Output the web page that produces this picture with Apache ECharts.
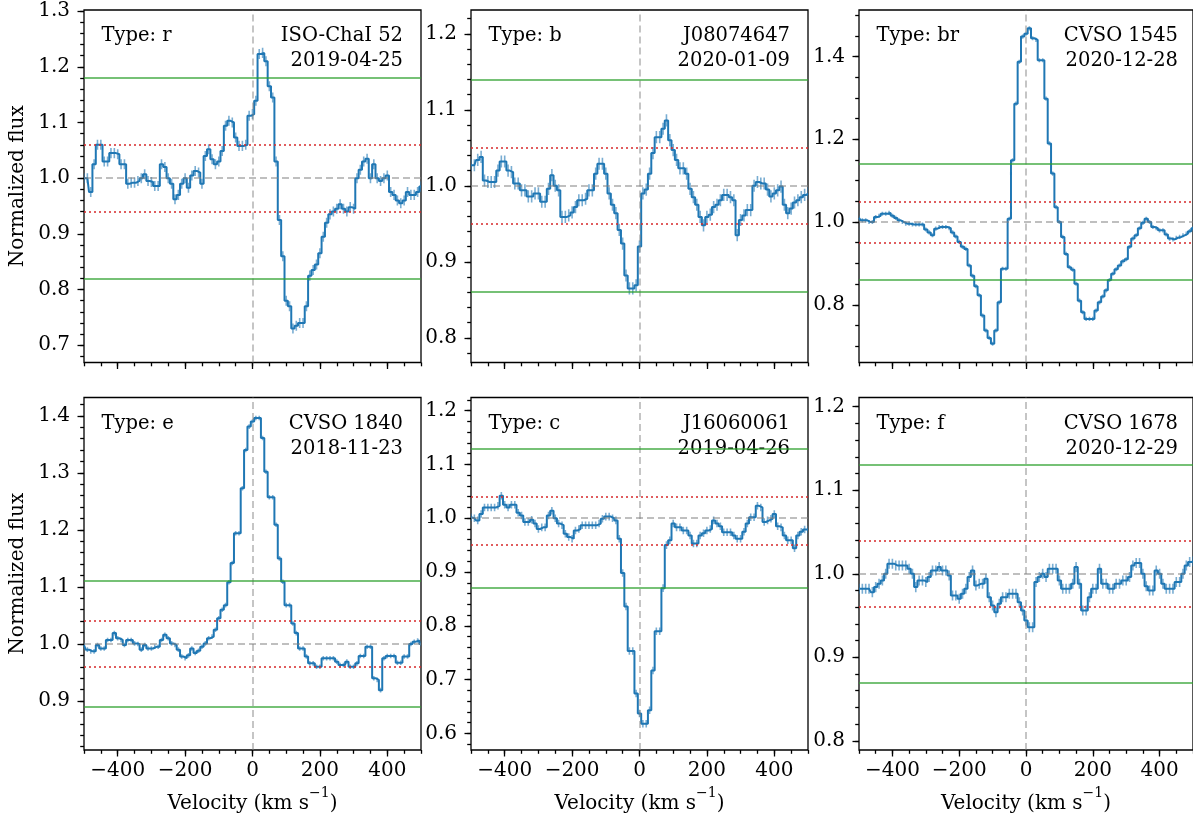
<!DOCTYPE html>
<html>
<head>
<meta charset="utf-8">
<script src="https://cdn.jsdelivr.net/npm/echarts@6/dist/echarts.min.js"></script>
<style>
  html, body { margin: 0; padding: 0; background: #fff; }
  #chart { width: 1193px; height: 816px; }
</style>
</head>
<body>
<div id="chart"></div>
<script>
// velocity grid (km/s), shared by all six spectra
const velocity = [
  -500, -490, -480, -470, -460, -450, -440, -430, -420, -410,
  -400, -390, -380, -370, -360, -350, -340, -330, -320, -310,
  -300, -290, -280, -270, -260, -250, -240, -230, -220, -210,
  -200, -190, -180, -170, -160, -150, -140, -130, -120, -110,
  -100, -90, -80, -70, -60, -50, -40, -30, -20, -10,
  0, 10, 20, 30, 40, 50, 60, 70, 80, 90,
  100, 110, 120, 130, 140, 150, 160, 170, 180, 190,
  200, 210, 220, 230, 240, 250, 260, 270, 280, 290,
  300, 310, 320, 330, 340, 350, 360, 370, 380, 390,
  400, 410, 420, 430, 440, 450, 460, 470, 480, 490,
  500
];

// normalized flux, one array per panel
const fluxR = [
  1.0, 1.0, 0.975, 1.025, 1.06, 1.06, 1.03, 1.03, 1.045, 1.045,
  1.043, 1.025, 1.025, 0.99, 0.992, 0.992, 0.995, 1.0, 1.007, 0.995,
  0.993, 0.986, 0.986, 1.025, 1.02, 1.0, 0.99, 0.962, 0.97, 0.99,
  1.0, 0.983, 1.005, 1.013, 1.01, 0.99, 1.04, 1.052, 1.034, 1.025,
  1.03, 1.049, 1.094, 1.103, 1.1, 1.073, 1.058, 1.058, 1.06, 1.112,
  1.115, 1.139, 1.223, 1.225, 1.21, 1.165, 1.145, 1.03, 0.925, 0.86,
  0.78, 0.77, 0.73, 0.735, 0.74, 0.74, 0.77, 0.825, 0.835, 0.845,
  0.865, 0.895, 0.92, 0.935, 0.94, 0.945, 0.953, 0.945, 0.94, 0.948,
  0.945, 1.0, 1.015, 1.03, 1.035, 1.0, 1.025, 1.0, 0.995, 1.0,
  1.005, 0.975, 0.97, 0.96, 0.955, 0.96, 0.975, 0.97, 0.97, 0.975,
  0.985
];
const fluxB = [
  1.027, 1.027, 1.034, 1.038, 1.007, 1.005, 1.005, 1.005, 1.02, 1.032,
  1.032, 1.02, 1.018, 1.003, 1.003, 0.994, 0.994, 0.986, 0.986, 0.99,
  0.99, 0.979, 0.979, 0.996, 1.014, 1.0, 0.994, 0.959, 0.959, 0.961,
  0.965, 0.972, 0.981, 0.981, 0.983, 0.994, 0.994, 1.016, 1.029, 1.029,
  1.016, 0.99, 0.975, 0.964, 0.942, 0.924, 0.882, 0.865, 0.865, 0.869,
  0.92, 0.99, 0.995, 1.016, 1.043, 1.064, 1.064, 1.075, 1.086, 1.06,
  1.047, 1.034, 1.023, 1.023, 1.016, 0.996, 0.985, 0.975, 0.959, 0.948,
  0.959, 0.962, 0.972, 0.975, 0.981, 0.988, 0.988, 0.985, 0.981, 0.935,
  0.955, 0.961, 0.968, 0.968, 1.0, 1.005, 1.003, 1.003, 0.995, 0.986,
  0.99, 0.994, 0.999, 0.975, 0.964, 0.97, 0.978, 0.981, 0.985, 0.988,
  0.99
];
const fluxBR = [
  1.01, 1.004, 1.004, 1.0, 1.0, 1.012, 1.015, 1.02, 1.02, 1.022,
  1.015, 1.01, 1.004, 1.0, 0.996, 0.996, 0.994, 0.994, 0.994, 0.994,
  0.982, 0.975, 0.968, 0.984, 0.988, 0.988, 0.988, 0.985, 0.975, 0.965,
  0.952, 0.94, 0.935, 0.895, 0.87, 0.845, 0.823, 0.774, 0.738, 0.72,
  0.706, 0.738, 0.806, 0.887, 0.887, 1.008, 1.149, 1.286, 1.387, 1.448,
  1.455, 1.468, 1.444, 1.44, 1.391, 1.391, 1.298, 1.19, 1.117, 1.036,
  1.0, 0.964, 0.923, 0.891, 0.885, 0.851, 0.81, 0.782, 0.766, 0.766,
  0.766, 0.786, 0.806, 0.82, 0.835, 0.86, 0.875, 0.886, 0.895, 0.905,
  0.91, 0.94, 0.96, 0.968, 0.985, 0.998, 1.008, 1.0, 0.988, 0.985,
  0.98, 0.98, 0.97, 0.96, 0.958, 0.962, 0.964, 0.968, 0.972, 0.978,
  0.985
];
const fluxE = [
  0.998, 0.99, 0.987, 0.987, 0.998, 0.992, 0.992, 1.007, 1.007, 1.019,
  1.01, 1.007, 0.998, 1.007, 1.007, 1.001, 1.0, 0.99, 0.998, 0.992,
  0.992, 0.995, 0.995, 1.007, 1.016, 1.01, 1.001, 0.998, 0.99, 0.978,
  0.975, 0.98, 0.992, 0.984, 0.988, 0.995, 1.001, 1.01, 1.013, 1.025,
  1.045, 1.06, 1.068, 1.108, 1.142, 1.194, 1.194, 1.273, 1.34, 1.381,
  1.39, 1.396, 1.396, 1.361, 1.302, 1.257, 1.257, 1.209, 1.15, 1.109,
  1.068, 1.068, 1.036, 1.019, 0.992, 0.992, 0.978, 0.966, 0.966, 0.96,
  0.96, 0.975, 0.975, 0.975, 0.975, 0.969, 0.963, 0.963, 0.969, 0.96,
  0.96, 0.966, 0.979, 0.979, 0.995, 0.995, 0.94, 0.937, 0.919, 0.975,
  0.979, 0.979, 0.979, 0.967, 0.967, 0.978, 0.978, 1.0, 1.004, 1.006,
  1.0
];
const fluxC = [
  1.002, 1.0, 0.996, 1.008, 1.02, 1.02, 1.02, 1.02, 1.023, 1.042,
  1.025, 1.02, 1.025, 1.025, 1.01, 1.005, 0.993, 0.993, 0.997, 0.99,
  0.98, 0.983, 0.983, 1.005, 1.014, 1.0, 0.99, 0.987, 0.971, 0.965,
  0.962, 0.977, 0.98, 0.987, 0.987, 0.987, 0.987, 0.987, 0.99, 0.999,
  1.003, 1.003, 1.0, 0.996, 0.962, 0.898, 0.836, 0.753, 0.753, 0.674,
  0.637, 0.618, 0.618, 0.643, 0.717, 0.79, 0.79, 0.87, 0.95, 0.959,
  0.99, 0.983, 0.983, 0.977, 0.977, 0.968, 0.953, 0.953, 0.968, 0.972,
  0.977, 0.98, 0.996, 0.99, 0.985, 0.974, 0.974, 0.974, 0.968, 0.962,
  0.962, 0.975, 0.99, 1.002, 1.002, 1.023, 1.02, 0.993, 0.996, 0.999,
  1.008, 0.985, 0.983, 0.968, 0.959, 0.959, 0.944, 0.968, 0.975, 0.979,
  0.979
];
const fluxF = [
  0.982, 0.982, 0.982, 0.982, 0.978, 0.984, 0.988, 0.992, 1.0, 1.012,
  1.012, 1.01, 1.01, 1.01, 1.01, 1.006, 1.0, 0.984, 0.992, 0.992,
  0.99, 0.996, 1.004, 1.004, 1.008, 1.004, 1.004, 0.998, 0.974, 0.974,
  0.97, 0.976, 0.982, 0.996, 1.004, 0.986, 0.988, 0.988, 0.994, 0.972,
  0.962, 0.954, 0.964, 0.972, 0.972, 0.976, 0.976, 0.976, 0.966, 0.956,
  0.944, 0.936, 0.936, 0.99, 0.996, 1.0, 0.996, 1.006, 1.006, 1.006,
  0.992, 0.982, 0.982, 0.982, 0.988, 1.008, 0.988, 0.956, 0.956, 0.972,
  0.982, 0.982, 1.006, 0.988, 0.988, 0.982, 0.982, 0.988, 0.988, 0.992,
  0.992, 0.996, 1.01, 1.013, 1.013, 1.0, 0.985, 0.98, 0.98, 1.004,
  1.0, 0.988, 0.982, 0.982, 0.982, 0.99, 0.99, 1.0, 1.01, 1.014,
  1.015
];

const fluxes = [fluxR, fluxB, fluxBR, fluxE, fluxC, fluxF];
const fluxErr = [0.009, 0.008, 0.005, 0.004, 0.007, 0.006];

const profileTypes = ['r', 'b', 'br', 'e', 'c', 'f'];
const objectNames = ['ISO-ChaI 52', 'J08074647', 'CVSO 1545', 'CVSO 1840', 'J16060061', 'CVSO 1678'];
const obsDates = ['2019-04-25', '2020-01-09', '2020-12-28', '2018-11-23', '2019-04-26', '2020-12-29'];

// threshold levels (green solid / red dotted), upper and lower
const greenLevels = [[1.181, 0.819], [1.139, 0.861], [1.137, 0.862], [1.112, 0.888], [1.134, 0.866], [1.127, 0.873]];
const redLevels = [[1.06, 0.94], [1.047, 0.953], [1.046, 0.954], [1.037, 0.963], [1.044, 0.955], [1.042, 0.957]];

// axes
const yLimits = [[0.669, 1.302], [0.7675, 1.2313], [0.6606, 1.5123], [0.8141, 1.432], [0.569, 1.2245], [0.789, 1.211]];
const yMajorTicks = [
  [0.7, 0.8, 0.9, 1.0, 1.1, 1.2, 1.3],
  [0.8, 0.9, 1.0, 1.1, 1.2],
  [0.8, 1.0, 1.2, 1.4],
  [0.9, 1.0, 1.1, 1.2, 1.3, 1.4],
  [0.6, 0.7, 0.8, 0.9, 1.0, 1.1, 1.2],
  [0.8, 0.9, 1.0, 1.1, 1.2]
];
const yMinorStep = [0.02, 0.02, 0.05, 0.02, 0.02, 0.02];
const xLimits = [-500, 500];
const xMajorTicks = [-400, -200, 0, 200, 400];
const xMinorStep = 50;

const panelLeft = [84, 471, 859];
const panelTop = [10, 397.5];
const panelW = 337;
const panelH = 352.5;

const FONT = 'DejaVu Serif';
const BLUE = '#1f77b4';
const GREEN = 'rgba(44,160,44,0.65)';
const RED = 'rgba(214,39,40,0.75)';
const GRAY = 'rgba(128,128,128,0.5)';

function minorTicks(lo, hi, step) {
  const out = [];
  for (let k = Math.ceil(lo / step - 1e-9); k * step <= hi + 1e-9; k++) {
    out.push(+(k * step).toFixed(4));
  }
  return out;
}

function fmtX(v) {
  return v < 0 ? '\u2212' + (-v) : String(v);
}

let chart = echarts.init(document.getElementById('chart'), null, { renderer: 'canvas' });

const grids = [], xAxes = [], yAxes = [], series = [], graphics = [];
const tickStyle = { color: '#000', width: 1.3 };

for (let i = 0; i < 6; i++) {
  const row = Math.floor(i / 3), col = i % 3;
  const gx = panelLeft[col], gy = panelTop[row];
  grids.push({
    left: gx, top: gy, width: panelW, height: panelH,
    show: true, borderColor: '#000', borderWidth: 1.3, backgroundColor: 'transparent'
  });

  // major x axis
  xAxes.push({
    gridIndex: i, type: 'value', min: xLimits[0], max: xLimits[1], position: 'bottom',
    axisLine: { show: false, onZero: false }, splitLine: { show: false },
    axisTick: { show: true, customValues: xMajorTicks, length: 6.5, lineStyle: tickStyle },
    axisLabel: {
      show: row === 1, customValues: xMajorTicks, formatter: fmtX,
      fontFamily: FONT, fontSize: 20, color: '#000', margin: 11
    },
    name: row === 1 ? '{t|Velocity (km s}{s|\u22121}{t|)}' : '',
    nameLocation: 'middle', nameGap: 36,
    nameTextStyle: {
      rich: {
        t: { fontFamily: FONT, fontSize: 20, color: '#000', lineHeight: 28, verticalAlign: 'bottom' },
        s: { fontFamily: FONT, fontSize: 14, color: '#000', lineHeight: 14, verticalAlign: 'top' }
      }
    }
  });
  // minor x ticks
  xAxes.push({
    gridIndex: i, type: 'value', min: xLimits[0], max: xLimits[1], position: 'bottom',
    axisLine: { show: false, onZero: false }, splitLine: { show: false }, axisLabel: { show: false },
    axisTick: { show: true, customValues: minorTicks(xLimits[0], xLimits[1], xMinorStep), length: 3.8, lineStyle: tickStyle }
  });

  const [ymin, ymax] = yLimits[i];
  yAxes.push({
    gridIndex: i, type: 'value', min: ymin, max: ymax, position: 'left',
    axisLine: { show: false, onZero: false }, splitLine: { show: false },
    axisTick: { show: true, customValues: yMajorTicks[i], length: 6.5, lineStyle: tickStyle },
    axisLabel: {
      customValues: yMajorTicks[i], formatter: v => v.toFixed(1),
      fontFamily: FONT, fontSize: 20, color: '#000', margin: 14
    },
    name: col === 0 ? 'Normalized flux' : '',
    nameLocation: 'middle', nameRotate: 90, nameGap: 56,
    nameTextStyle: { fontFamily: FONT, fontSize: 20, color: '#000' }
  });
  yAxes.push({
    gridIndex: i, type: 'value', min: ymin, max: ymax, position: 'left',
    axisLine: { show: false, onZero: false }, splitLine: { show: false }, axisLabel: { show: false },
    axisTick: { show: true, customValues: minorTicks(ymin, ymax, yMinorStep[i]), length: 3.8, lineStyle: tickStyle }
  });

  const xi = 2 * i, yi = 2 * i;

  // reference lines
  series.push({
    type: 'line', xAxisIndex: xi, yAxisIndex: yi, data: [], silent: true, z: 1,
    markLine: {
      symbol: ['none', 'none'], silent: true, animation: false, label: { show: false },
      data: [
        { xAxis: 0, lineStyle: { color: GRAY, type: [7, 4], width: 1.8 } },
        { yAxis: 1.0, lineStyle: { color: GRAY, type: [7, 4], width: 1.8 } },
        { yAxis: redLevels[i][0], lineStyle: { color: RED, type: [2, 3], width: 2 } },
        { yAxis: redLevels[i][1], lineStyle: { color: RED, type: [2, 3], width: 2 } },
        { yAxis: greenLevels[i][0], lineStyle: { color: GREEN, type: 'solid', width: 2 } },
        { yAxis: greenLevels[i][1], lineStyle: { color: GREEN, type: 'solid', width: 2 } }
      ]
    }
  });

  // error bars
  series.push({
    type: 'custom', xAxisIndex: xi, yAxisIndex: yi, z: 2, clip: true, silent: true,
    data: velocity.map((v, k) => [v, fluxes[i][k], fluxErr[i]]),
    renderItem: (params, api) => {
      const x = api.value(0), y = api.value(1), e = api.value(2);
      const p1 = api.coord([x, y - e]);
      const p2 = api.coord([x, y + e]);
      return {
        type: 'line',
        shape: { x1: p1[0], y1: p1[1], x2: p2[0], y2: p2[1] },
        style: { stroke: 'rgba(31,119,180,0.6)', lineWidth: 1.6 }
      };
    }
  });

  // spectrum as mid steps
  series.push({
    type: 'line', xAxisIndex: xi, yAxisIndex: yi, z: 3, step: 'middle',
    showSymbol: false, clip: true, silent: true,
    data: velocity.map((v, k) => [v, fluxes[i][k]]),
    lineStyle: { color: BLUE, width: 2 }
  });

  // annotations
  const font = '19.5px "' + FONT + '"';
  graphics.push(
    { type: 'text', x: gx + 17.5, y: gy + 26, style: { text: 'Type: ' + profileTypes[i], font, fill: '#000', align: 'left', verticalAlign: 'middle' } },
    { type: 'text', x: gx + 319, y: gy + 26, style: { text: objectNames[i], font, fill: '#000', align: 'right', verticalAlign: 'middle' } },
    { type: 'text', x: gx + 319, y: gy + 51, style: { text: obsDates[i], font, fill: '#000', align: 'right', verticalAlign: 'middle' } }
  );
}

chart.setOption({
  animation: false,
  backgroundColor: '#fff',
  grid: grids,
  xAxis: xAxes,
  yAxis: yAxes,
  series: series,
  graphic: graphics
});
</script>
</body>
</html>
